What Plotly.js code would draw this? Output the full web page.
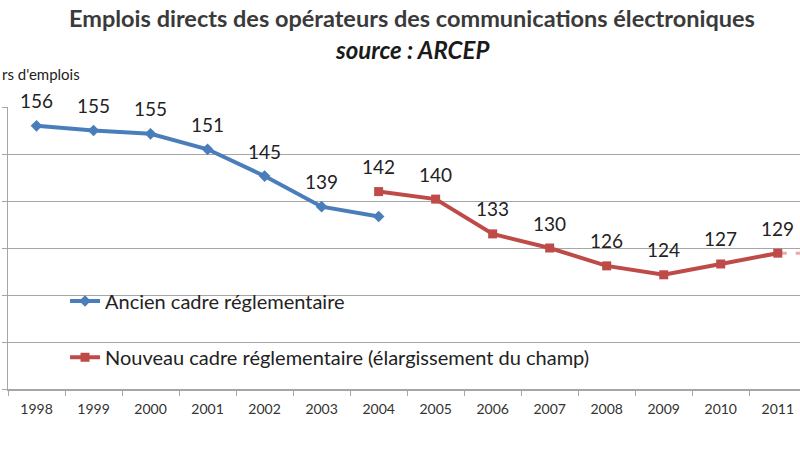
<!DOCTYPE html>
<html>
<head>
<meta charset="utf-8">
<script src="https://cdn.plot.ly/plotly-3.0.1.min.js"></script>
<style>html,body{margin:0;padding:0;background:#fff;}#chart{width:800px;height:450px;}</style>
</head>
<body>
<div id="chart"></div>
<script>
const years = ['1998','1999','2000','2001','2002','2003','2004','2005','2006','2007','2008','2009','2010','2011'];
const ancienYears = ['1998','1999','2000','2001','2002','2003','2004'];
const ancienValues = [156, 155, 154.3, 151, 145.3, 138.8, 136.7];
const ancienLabels = ['156','155','155','151','145','139',''];
const nouveauYears = ['2004','2005','2006','2007','2008','2009','2010','2011'];
const nouveauValues = [142, 140.4, 133, 130, 126.2, 124.3, 126.6, 128.9];
const nouveauLabels = ['142','140','133','130','126','124','127','129'];
const extYears = ['2011','2012'];
const extValues = [128.9, 128.9];
const allCategories = years.concat(['2012']);

const FONT = 'Lato, "Open Sans", sans-serif';
const BLUE = '#4a7ebb';
const RED = '#be4b48';

const traces = [
  {x: ancienYears, y: ancienValues, type: 'scatter', mode: 'lines+markers',
   name: 'Ancien cadre réglementaire',
   line: {color: BLUE, width: 4}, marker: {symbol: 'diamond', size: 9, color: BLUE},
   legend: 'legend'},
  {x: extYears, y: extValues, type: 'scatter', mode: 'lines', showlegend: false,
   line: {color: '#eaa9a8', width: 3, dash: 'dash'}, hoverinfo: 'skip'},
  {x: nouveauYears, y: nouveauValues, type: 'scatter', mode: 'lines+markers',
   name: 'Nouveau cadre réglementaire (élargissement du champ)',
   line: {color: RED, width: 4}, marker: {symbol: 'square', size: 9, color: RED},
   legend: 'legend2'}
];

const annotations = [];
function addLabels(xs, ys, labels) {
  xs.forEach((x, i) => {
    if (!labels[i]) return;
    annotations.push({x: allCategories.indexOf(x), y: ys[i], xref: 'x', yref: 'y', text: labels[i],
      showarrow: false, yshift: 25, font: {family: FONT, size: 19, color: '#222'}});
  });
}
addLabels(ancienYears, ancienValues, ancienLabels);
addLabels(nouveauYears, nouveauValues, nouveauLabels);

annotations.push({xref: 'paper', yref: 'paper', x: 0.5, y: 1, xanchor: 'center', yanchor: 'middle',
  text: '<b>Emplois directs des opérateurs des communications électroniques</b>',
  showarrow: false, yshift: 89, xshift: 8, font: {family: FONT, size: 23.5, color: '#3a3a3a'}});
annotations.push({xref: 'paper', yref: 'paper', x: 0.5, y: 1, xanchor: 'center', yanchor: 'middle',
  text: '<b><i>source : ARCEP</i></b>',
  showarrow: false, yshift: 58, xshift: 8, font: {family: FONT, size: 24, color: '#1a1a1a'}});
annotations.push({xref: 'paper', yref: 'paper', x: 0, y: 1, xanchor: 'left', yanchor: 'middle',
  text: "rs d'emplois", showarrow: false, xshift: -8, yshift: 33,
  font: {family: FONT, size: 15, color: '#222'}});

const layout = {
  width: 800, height: 450,
  margin: {l: 8, r: 0, t: 107, b: 61},
  paper_bgcolor: '#fff', plot_bgcolor: '#fff',
  xaxis: {type: 'category', categoryarray: allCategories, categoryorder: 'array',
    range: [-0.5, 13.39], showgrid: false, zeroline: false,
    showline: true, linecolor: '#a6a6a6', linewidth: 2,
    ticks: 'outside', tickson: 'boundaries', ticklen: 5, tickcolor: '#a6a6a6',
    ticklabelstandoff: 6,
    tickfont: {family: FONT, size: 14, color: '#333'}, fixedrange: true},
  yaxis: {range: [100, 160], dtick: 10, showgrid: true, gridcolor: '#a6a6a6', gridwidth: 1,
    zeroline: false, showline: true, linecolor: '#a6a6a6', linewidth: 1,
    ticks: 'outside', ticklen: 5, tickcolor: '#a6a6a6', showticklabels: false, fixedrange: true},
  showlegend: true,
  legend: {x: 0.072, y: 0.312, xanchor: 'left', yanchor: 'middle', bgcolor: 'rgba(0,0,0,0)',
    font: {family: FONT, size: 20, color: '#222'}},
  legend2: {x: 0.072, y: 0.113, xanchor: 'left', yanchor: 'middle', bgcolor: 'rgba(0,0,0,0)',
    font: {family: FONT, size: 20, color: '#222'}},
  annotations: annotations
};

Plotly.newPlot('chart', traces, layout, {displayModeBar: false, staticPlot: true});
</script>
</body>
</html>
